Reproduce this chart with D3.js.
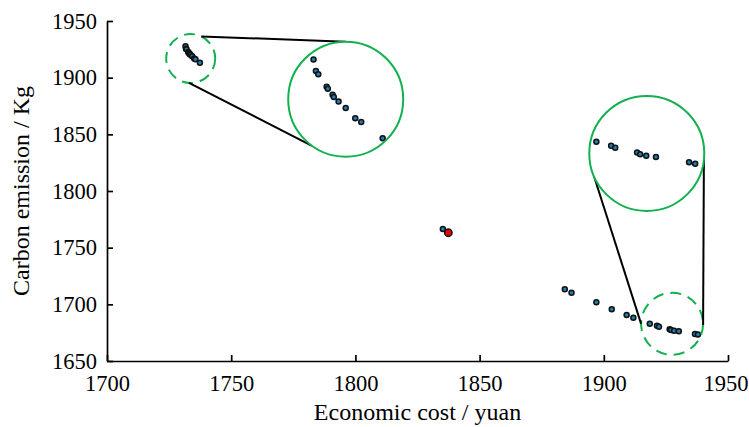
<!DOCTYPE html>
<html><head><meta charset="utf-8">
<script src="https://cdn.jsdelivr.net/npm/d3@7"></script>
</head>
<body style="margin:0">
<svg id="chart" width="749" height="427" font-family="Liberation Serif"></svg>
<script>
// ---- data ----
const costs = [1731.6,1731.8,1732.0,1732.7,1732.8,1733.2,1733.3,1733.7,1734.3,1735.1,1735.6,1737.4,
  1835.2,
  1884.3,1887.0,1897.0,1903.2,1909.2,1911.9,
  1918.5,1921.4,1922.2,1926.5,1927.1,1928.3,1930.2,1936.7,1937.9];
const emissions = [1927.7,1925.6,1925.0,1922.7,1922.3,1921.2,1920.8,1920.0,1918.8,1916.9,1916.2,1913.2,
  1766.5,
  1713.3,1710.3,1701.8,1695.6,1690.6,1688.2,
  1682.8,1681.0,1680.2,1678.1,1677.4,1676.7,1676.2,1673.9,1673.3];
const chosenCost = [1837.4];
const chosenEmission = [1763.2];
const xTicks = [1700,1750,1800,1850,1900,1950];
const yTicks = [1650,1700,1750,1800,1850,1900,1950];
const xLabel = "Economic cost / yuan";
const yLabel = "Carbon emission / Kg";

// zoom insets: source centre (data), dashed-circle centre (data), target centre (data), magnification
const insets = [
  {src:[1734.3,1920.4], ring:[1733.7,1916.9], ringR:24.5, dst:[1796.1,1881.0], dstR:57.5, mag:4.8,
   links:[[-64.6,-90],[94,125.9]]},
  {src:[1928.4,1677.7], ring:[1927.5,1682.8], ringR:31, dst:[1917.3,1833.1], dstR:57.5, mag:2.05,
   links:[[180,156.2],[2,6.6]]}
];

// ---- layout ----
const svg = d3.select("#chart");
const x = d3.scaleLinear().domain([1700,1950]).range([107,728]);
const y = d3.scaleLinear().domain([1650,1950]).range([361,21]);
const green = "#12b04e";
const pts = costs.map((c,i)=>({c, e:emissions[i]}));

// axes
const xAxis = d3.axisBottom(x).tickValues(xTicks).tickFormat(d => String(d)).tickSizeInner(-6).tickSizeOuter(0).tickPadding(14);
const yAxis = d3.axisLeft(y).tickValues(yTicks).tickFormat(d => String(d)).tickSizeInner(-6).tickSizeOuter(0).tickPadding(10);
const gx = svg.append("g").attr("transform","translate(0,361)").call(xAxis);
const gy = svg.append("g").attr("transform","translate(107,0)").call(yAxis);
[gx,gy].forEach(g=>{
  g.attr("font-family","Liberation Serif").attr("font-size",22.5);
  g.selectAll("path.domain").attr("stroke","#000").attr("stroke-width",1.7);
  g.selectAll(".tick line").attr("stroke","#000").attr("stroke-width",1.7);
  g.selectAll(".tick text").attr("fill","#000");
});
gx.selectAll(".tick text").attr("dy","0.71em");
gx.selectAll(".tick text").filter(d => d === xTicks[xTicks.length-1]).attr("dx", -2.5);

svg.append("text").attr("x",(x(1700)+x(1950))/2).attr("y",420).attr("text-anchor","middle")
  .attr("font-family","Liberation Serif").attr("font-size",24).attr("fill","#000").text(xLabel);
svg.append("text").attr("transform",`translate(29,${(y(1650)+y(1950))/2}) rotate(-90)`).attr("text-anchor","middle")
  .attr("font-family","Liberation Serif").attr("font-size",24).attr("fill","#000").text(yLabel);

function dot(sel, r, fill){
  sel.attr("r",r).attr("fill",fill).attr("stroke","#111").attr("stroke-width",1.5);
}

// main points
svg.append("g").selectAll("circle").data(pts).join("circle")
  .attr("cx",d=>x(d.c)).attr("cy",d=>y(d.e)).call(dot,2.5,"#1e7fb0");
svg.append("g").selectAll("circle").data(chosenCost.map((c,i)=>({c,e:chosenEmission[i]}))).join("circle")
  .attr("cx",d=>x(d.c)).attr("cy",d=>y(d.e)).call(dot,3.7,"#ee0000");

// insets
const defs = svg.append("defs");
insets.forEach((ins,k)=>{
  const rc=[x(ins.ring[0]),y(ins.ring[1])], dc=[x(ins.dst[0]),y(ins.dst[1])], sc=[x(ins.src[0]),y(ins.src[1])];
  const rad=a=>a*Math.PI/180;
  svg.append("circle").attr("cx",rc[0]).attr("cy",rc[1]).attr("r",ins.ringR)
    .attr("fill","none").attr("stroke",green).attr("stroke-width",2).attr("stroke-dasharray","11,7");
  ins.links.forEach(([a1,a2])=>{
    svg.append("line")
      .attr("x1",rc[0]+ins.ringR*Math.cos(rad(a1))).attr("y1",rc[1]+ins.ringR*Math.sin(rad(a1)))
      .attr("x2",dc[0]+ins.dstR*Math.cos(rad(a2))).attr("y2",dc[1]+ins.dstR*Math.sin(rad(a2)))
      .attr("stroke","#000").attr("stroke-width",2);
  });
  const inside = pts.filter(d=>Math.hypot(x(d.c)-sc[0],y(d.e)-sc[1]) < ins.dstR/ins.mag);
  defs.append("clipPath").attr("id","clip"+k).append("circle").attr("cx",dc[0]).attr("cy",dc[1]).attr("r",ins.dstR);
  svg.append("circle").attr("cx",dc[0]).attr("cy",dc[1]).attr("r",ins.dstR).attr("fill","#fff");
  svg.append("g").attr("clip-path",`url(#clip${k})`).selectAll("circle").data(inside).join("circle")
    .attr("cx",d=>dc[0]+(x(d.c)-sc[0])*ins.mag).attr("cy",d=>dc[1]+(y(d.e)-sc[1])*ins.mag)
    .call(dot,2.5,"#1e7fb0");
  svg.append("circle").attr("cx",dc[0]).attr("cy",dc[1]).attr("r",ins.dstR)
    .attr("fill","none").attr("stroke",green).attr("stroke-width",2);
});
</script>
</body></html>
